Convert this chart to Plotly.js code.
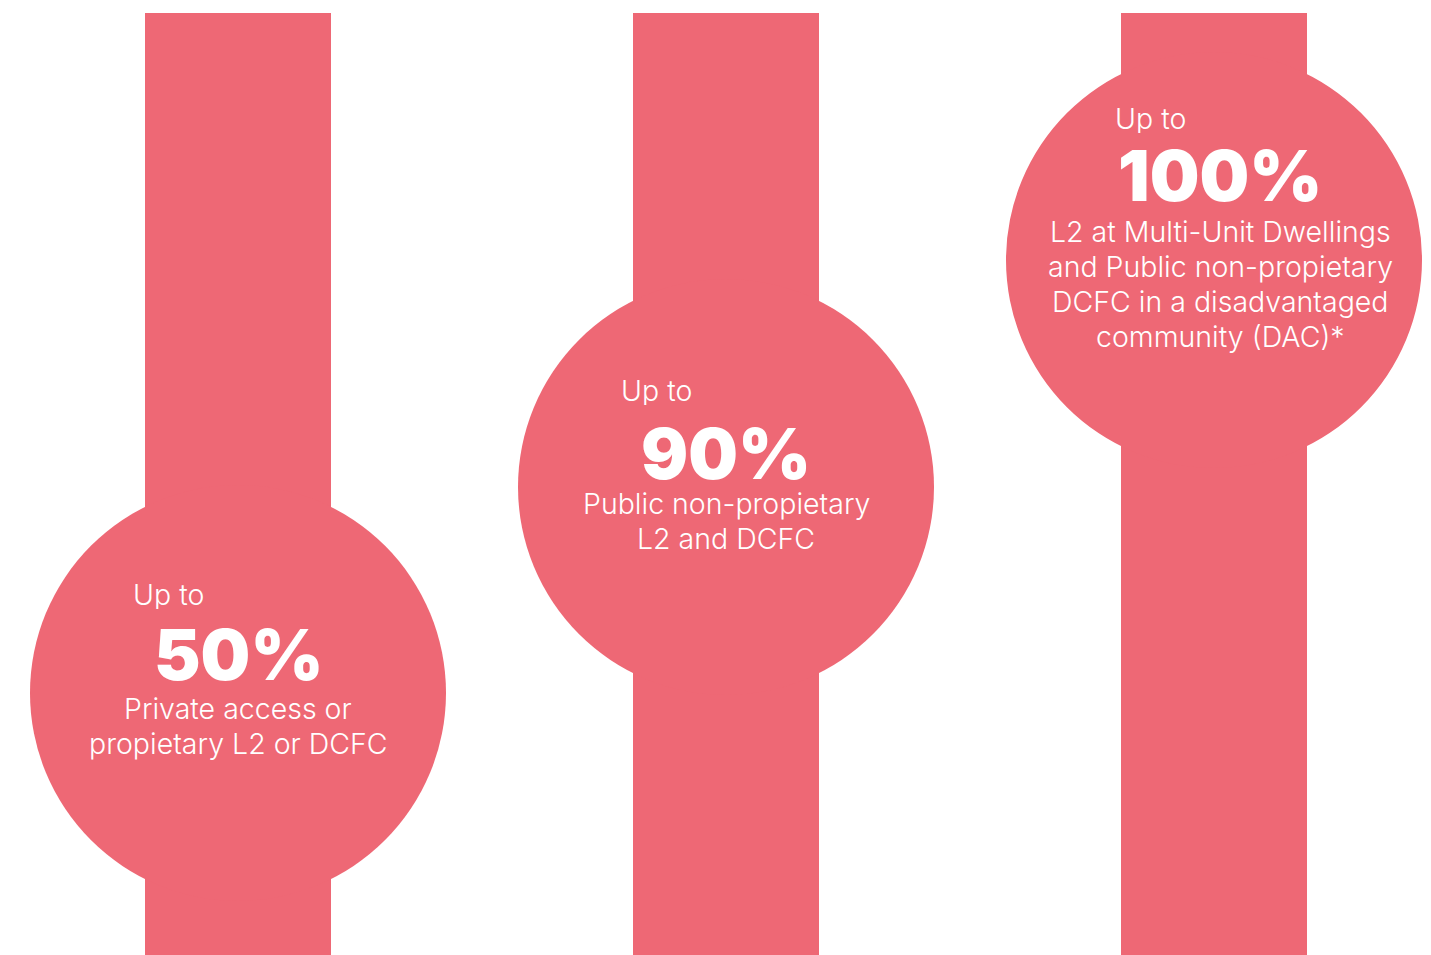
<!DOCTYPE html>
<html>
<head>
<meta charset="utf-8">
<script src="https://cdn.plot.ly/plotly-3.0.1.min.js"></script>
<style>html,body{margin:0;padding:0;background:#fff;}#chart{width:1431px;height:955px;}</style>
</head>
<body>
<div id="chart"></div>
<script>
// ---- data ----
var categories = ["Private / propietary", "Public non-propietary", "MUD & DAC"];
var maxShare = [50, 90, 100];
var prefixLabels = ["Up to", "Up to", "Up to"];
var shareLabels = ["50%", "90%", "100%"];
var descriptions = [
  ["Private access or", "propietary L2 or DCFC"],
  ["Public non-propietary", "L2 and DCFC"],
  ["L2 at Multi-Unit Dwellings", "and Public non-propietary", "DCFC in a disadvantaged", "community (DAC)*"]
];
// vertical level of each disc along its column (axis units)
var discLevel = [0.537, 0.959, 1.424];

// ---- layout constants (style, not data) ----
var W = 1431, H = 955, unitPx = 488;
var colour = "#EE6875";
var barHalf = 93 / unitPx, discR = 208 / unitPx, barTop = (H - 13) / unitPx;
var pctShiftPx = [-39, -34, -85];     // percent label centre, relative to disc centre (px, down +)
var prefixGapPx = [-60, -63, -57];    // "Up to" relative to percent label
var descGapPx = [55, 50, 56];         // first description line relative to percent label
var textXShiftPx = [0, 0, 6];         // horizontal nudge of each text block
var lineStepPx = 35;
var prefixLeftPx = -107;
var bodyFont = {family: "Inter, 'Open Sans', sans-serif", size: 28.5, color: "#fff", weight: 300};

var xs = categories.map(function (c, i) { return i; });
var shapes = [], annotations = [];
xs.forEach(function (x, i) {
  shapes.push({type: "rect", xref: "x", yref: "y", x0: x - barHalf, x1: x + barHalf,
    y0: -0.1, y1: barTop, fillcolor: colour, line: {width: 0}, layer: "below"});
  shapes.push({type: "circle", xref: "x", yref: "y", x0: x - discR, x1: x + discR,
    y0: discLevel[i] - discR, y1: discLevel[i] + discR, fillcolor: colour, line: {width: 0}, layer: "below"});
  var s = pctShiftPx[i], dx = textXShiftPx[i];
  annotations.push({xref: "x", yref: "y", x: x, y: discLevel[i], xshift: prefixLeftPx + dx, yshift: -(s + prefixGapPx[i]),
    xanchor: "left", yanchor: "middle", showarrow: false, text: prefixLabels[i], font: bodyFont, height: 30});
  annotations.push({xref: "x", yref: "y", x: x, y: discLevel[i], xshift: dx, yshift: -s,
    xanchor: "center", yanchor: "middle", showarrow: false, text: shareLabels[i], height: 58,
    font: {family: "Inter, Lato, sans-serif", size: 70, color: "#fff", weight: 900}});
  descriptions[i].forEach(function (line, k) {
    annotations.push({xref: "x", yref: "y", x: x, y: discLevel[i], xshift: dx,
      yshift: -(s + descGapPx[i] + k * lineStepPx),
      xanchor: "center", yanchor: "middle", align: "center", showarrow: false, text: line, font: bodyFont, height: 33});
  });
});

var trace = {type: "scatter", mode: "markers", x: xs, y: discLevel,
  customdata: maxShare, marker: {opacity: 0}, hoverinfo: "skip", showlegend: false};

var layout = {
  width: W, height: H, margin: {l: 0, r: 0, t: 0, b: 0},
  paper_bgcolor: "#fff", plot_bgcolor: "#fff",
  xaxis: {range: [-238 / unitPx, (W - 238) / unitPx], visible: false, fixedrange: true},
  yaxis: {range: [0, H / unitPx], visible: false, fixedrange: true},
  shapes: shapes, annotations: annotations, showlegend: false
};
Plotly.newPlot("chart", [trace], layout, {staticPlot: true, displayModeBar: false});
</script>
</body>
</html>
